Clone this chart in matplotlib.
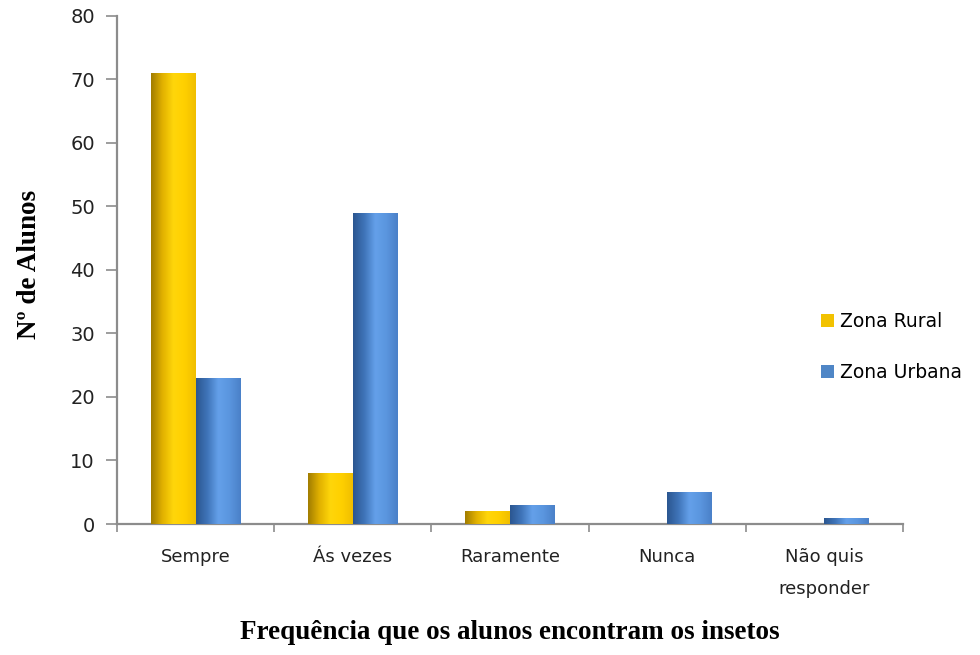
import matplotlib.pyplot as plt
import numpy as np
from matplotlib.colors import LinearSegmentedColormap

categories = ["Sempre", "Ás vezes", "Raramente", "Nunca", "Não quis\nresponder"]
rural = [71, 8, 2, 0, 0]
urbana = [23, 49, 3, 5, 1]
series_labels = ["Zona Rural", "Zona Urbana"]

SERIES_COLORS = ["#F2C200", "#4F86C6"]
# left-to-right shading that gives the bars a rounded, lit look
SHADES = [
    ["#A07C00", "#E0B000", "#FFD60A", "#FFD000", "#F0BE00"],
    ["#2B5690", "#3F74B8", "#64A0EA", "#5A95DE", "#4A80C8"],
]


def gradient_bars(ax, x, heights, width, color, shades, label):
    bars = ax.bar(x, heights, width, color=color, edgecolor="none", label=label, zorder=2)
    cmap = LinearSegmentedColormap.from_list("shade", shades)
    grad = np.linspace(0, 1, 256).reshape(1, -1)
    for bar in bars:
        h = bar.get_height()
        if h <= 0:
            continue
        x0 = bar.get_x()
        im = ax.imshow(grad, cmap=cmap, aspect="auto", zorder=3,
                       extent=(x0, x0 + bar.get_width(), 0, h), interpolation="bicubic")
        im.set_clip_path(bar)
    return bars


fig = plt.figure(figsize=(9.8, 6.55), dpi=100)
ax = fig.add_axes([0.1194, 0.2, 0.8020, 0.7756])

x = np.arange(len(categories))
w = 0.285
gradient_bars(ax, x - w / 2, rural, w, SERIES_COLORS[0], SHADES[0], series_labels[0])
gradient_bars(ax, x + w / 2, urbana, w, SERIES_COLORS[1], SHADES[1], series_labels[1])

ax.set_xlim(-0.5, len(categories) - 0.5)
ax.set_ylim(0, 80)
ax.set_yticks(range(0, 81, 10))
ax.set_yticklabels([str(v) for v in range(0, 81, 10)], fontsize=14, color="#222222")

# category labels sit between the boundary ticks
ax.set_xticks(np.arange(-0.5, len(categories), 1.0))
ax.set_xticklabels([])
ax.set_xticks(x, minor=True)
ax.set_xticklabels(categories, minor=True, fontsize=13, color="#222222", linespacing=2.05)
ax.tick_params(axis="x", which="minor", length=0, pad=17)
ax.tick_params(axis="x", which="major", length=6, width=1.2, color="#8C8C8C", direction="out")
ax.tick_params(axis="y", length=8, width=1.2, color="#8C8C8C", direction="out", pad=8)

for side in ("top", "right"):
    ax.spines[side].set_visible(False)
for side in ("left", "bottom"):
    ax.spines[side].set_color("#8C8C8C")
    ax.spines[side].set_linewidth(1.6)

ax.set_xlabel("Frequência que os alunos encontram os insetos", fontsize=19.5,
              fontweight="bold", family="Liberation Serif", va="center")
ax.xaxis.set_label_coords(0.5, -0.2126)
ax.set_ylabel("Nº de Alunos", fontsize=19.5, fontweight="bold",
              family="Liberation Serif", va="center")
ax.yaxis.set_label_coords(-0.111, 0.51)

handles, labels = ax.get_legend_handles_labels()
fig.legend(handles, labels, loc="center left", bbox_to_anchor=(0.821, 0.47),
           frameon=False, fontsize=13.5, handlelength=0.65, handleheight=0.65,
           handletextpad=0.35, labelspacing=1.7)

fig.savefig("out.png", dpi=100, facecolor="white")
